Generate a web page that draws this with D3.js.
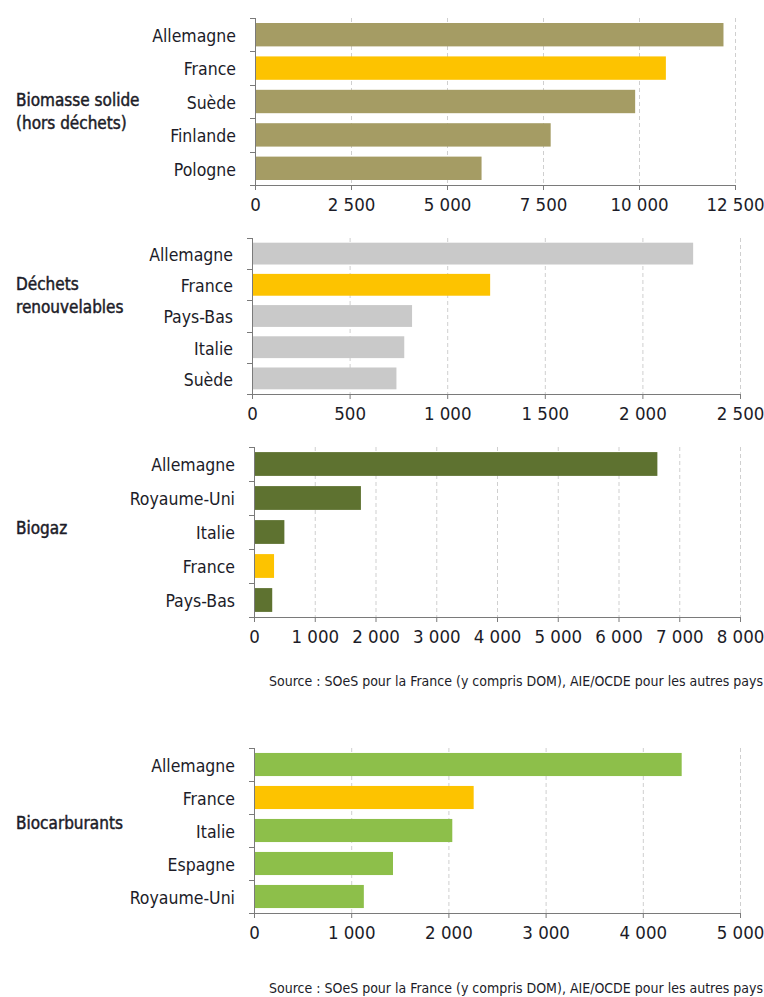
<!DOCTYPE html>
<html><head><meta charset="utf-8">
<script src="https://cdn.jsdelivr.net/npm/d3@7"></script>
<style>
html,body{margin:0;padding:0;background:#fff;}
svg{display:block;}
text{font-family:"DejaVu Sans Condensed","DejaVu Sans",sans-serif;font-stretch:condensed;fill:#1c1c28;}
</style></head>
<body><svg id="chart" width="764" height="997"></svg>
<script>
// ---- Data ----
const biomasseCountries = ["Allemagne","France","Suède","Finlande","Pologne"];
const biomasseValues = [12200, 10700, 9900, 7700, 5900];
const biomasseTicks = [0, 2500, 5000, 7500, 10000, 12500];

const dechetsCountries = ["Allemagne","France","Pays-Bas","Italie","Suède"];
const dechetsValues = [2260, 1220, 820, 780, 740];
const dechetsTicks = [0, 500, 1000, 1500, 2000, 2500];

const biogazCountries = ["Allemagne","Royaume-Uni","Italie","France","Pays-Bas"];
const biogazValues = [6640, 1760, 500, 330, 300];
const biogazTicks = [0, 1000, 2000, 3000, 4000, 5000, 6000, 7000, 8000];

const biocarbCountries = ["Allemagne","France","Italie","Espagne","Royaume-Uni"];
const biocarbValues = [4400, 2260, 2040, 1430, 1130];
const biocarbTicks = [0, 1000, 2000, 3000, 4000, 5000];

const groupLabels = [["Biomasse solide","(hors déchets)"],["Déchets","renouvelables"],["Biogaz"],["Biocarburants"]];
const sourceText = "Source : SOeS pour la France (y compris DOM), AIE/OCDE pour les autres pays";

// ---- Layout ----
const panels = [
  {countries: biomasseCountries, values: biomasseValues, ticks: biomasseTicks, label: groupLabels[0],
   color:"#a59c64", x0:255, x1:735, y0:18, y1:185, labelY:100},
  {countries: dechetsCountries, values: dechetsValues, ticks: dechetsTicks, label: groupLabels[1],
   color:"#c9c9c9", x0:252, x1:740, y0:238, y1:394, labelY:284},
  {countries: biogazCountries, values: biogazValues, ticks: biogazTicks, label: groupLabels[2],
   color:"#5e7230", x0:254, x1:740, y0:447, y1:617, labelY:528},
  {countries: biocarbCountries, values: biocarbValues, ticks: biocarbTicks, label: groupLabels[3],
   color:"#8dbf4a", x0:254, x1:740, y0:748, y1:913, labelY:823}
];
const franceColor = "#fdc300";

const fr = d3.formatLocale({decimal:",", thousands:"\u00a0", grouping:[3], currency:["","€"]});
const fmt = fr.format(",d");

const svg = d3.select("#chart");

panels.forEach(p => {
  const g = svg.append("g");
  const x = d3.scaleLinear().domain([p.ticks[0], p.ticks[p.ticks.length-1]]).range([p.x0, p.x1]);
  const y = d3.scaleBand().domain(p.countries).range([p.y0, p.y1]).paddingInner(0.3).paddingOuter(0.15);

  // grid
  g.selectAll("line.grid").data(p.ticks.slice(1)).join("line")
    .attr("x1", d => x(d)+0.5).attr("x2", d => x(d)+0.5)
    .attr("y1", p.y0).attr("y2", p.y1)
    .attr("stroke", "#cfcfcf").attr("stroke-width", 1).attr("stroke-dasharray", "4,3");

  // bars
  g.selectAll("rect").data(p.countries).join("rect")
    .attr("x", x(0)).attr("y", d => y(d))
    .attr("width", (d,i) => x(p.values[i]) - x(0))
    .attr("height", y.bandwidth())
    .attr("fill", d => d === "France" ? franceColor : p.color);

  // x axis
  const xa = g.append("g").attr("transform", `translate(0,${p.y1})`)
    .call(d3.axisBottom(x).tickValues(p.ticks).tickFormat(fmt).tickSize(5).tickPadding(8));
  xa.select(".domain").attr("stroke", "#7a7a7a");
  xa.selectAll(".tick line").attr("stroke", "#7a7a7a");
  xa.selectAll("text").attr("font-size", 18.5).attr("fill", "#1c1c28")
    .style("font-family", '"DejaVu Sans Condensed","DejaVu Sans",sans-serif');

  // y axis line + boundary ticks
  g.append("line").attr("x1", p.x0+0.5).attr("x2", p.x0+0.5).attr("y1", p.y0).attr("y2", p.y1)
    .attr("stroke", "#7a7a7a");
  const bounds = d3.range(p.countries.length + 1);
  g.selectAll("line.yt").data(bounds).join("line")
    .attr("x1", p.x0 - 5).attr("x2", p.x0)
    .attr("y1", i => Math.round(p.y0 + (p.y1 - p.y0) * i / p.countries.length) + 0.5)
    .attr("y2", i => Math.round(p.y0 + (p.y1 - p.y0) * i / p.countries.length) + 0.5)
    .attr("stroke", "#7a7a7a");

  // category labels
  g.selectAll("text.cat").data(p.countries).join("text")
    .attr("class", "cat")
    .attr("x", p.x0 - 19).attr("y", d => y(d) + y.bandwidth()/2)
    .attr("dy", "0.42em").attr("text-anchor", "end").attr("font-size", 17.5)
    .text(d => d);

  // group label
  const gl = g.append("text").attr("x", 16).attr("y", p.labelY)
    .attr("font-size", 17).attr("stroke", "#1c1c28").attr("stroke-width", 0.45);
  p.label.forEach((t, i) => gl.append("tspan").attr("x", 16).attr("dy", i === 0 ? "0.38em" : "1.3em").text(t));
});

// sources
[686, 993].forEach(yy => {
  svg.append("text").attr("x", 763).attr("y", yy).attr("text-anchor", "end")
    .attr("font-size", 14).attr("fill", "#333").text(sourceText);
});
</script></body></html>
